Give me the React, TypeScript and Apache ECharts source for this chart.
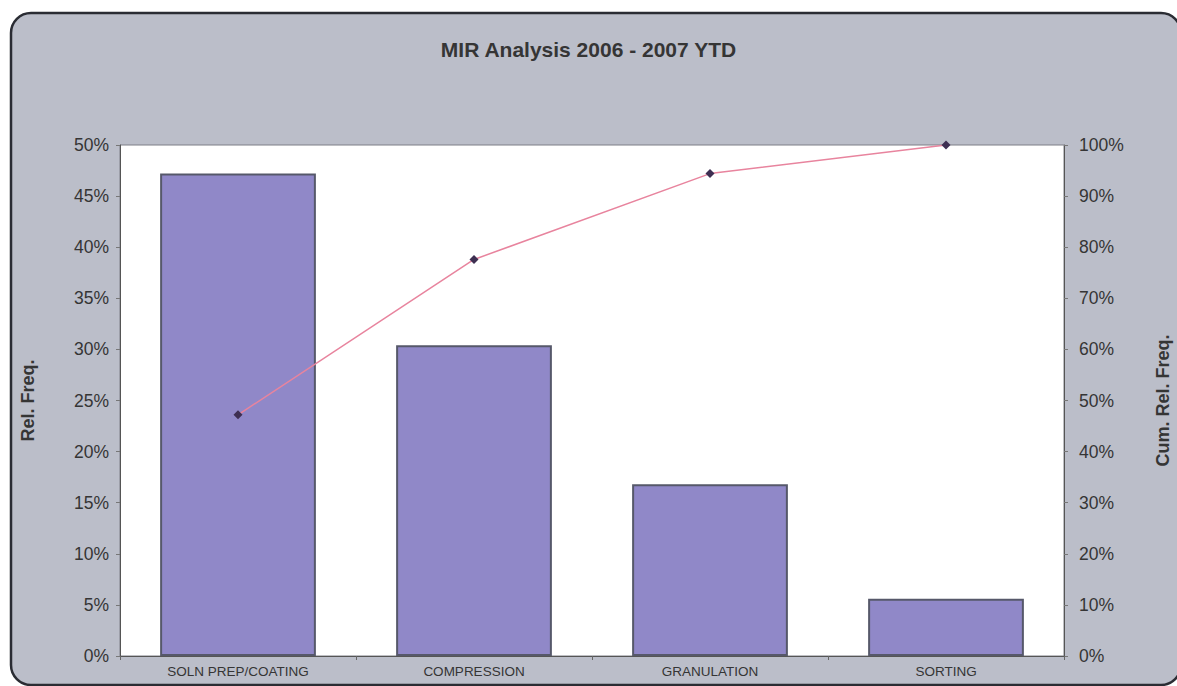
import React, { useEffect, useRef } from "react";
import * as echarts from "echarts";

// Pareto of MIR records by process area
const categories = ["SOLN PREP/COATING", "COMPRESSION", "GRANULATION", "SORTING"];
const relFreq = [47.2, 30.4, 16.8, 5.6];
const cumRelFreq = [47.2, 77.6, 94.4, 100];

const chartTitle = "MIR Analysis 2006 - 2007 YTD";
const leftAxisName = "Rel. Freq.";
const rightAxisName = "Cum. Rel. Freq.";

const FONT = "'Liberation Sans', Arial, sans-serif";
const TEXT = "#353535";

export default function App() {
  const ref = useRef<HTMLDivElement>(null);

  useEffect(() => {
    document.body.style.margin = "0";
    const chart = echarts.init(ref.current!, null, { renderer: "svg" });
    chart.setOption({
      animation: false,
      backgroundColor: "#ffffff",
      textStyle: { fontFamily: FONT },
      graphic: [
        {
          type: "rect",
          z: -10,
          silent: true,
          shape: { x: 11, y: 13, width: 1170, height: 672, r: 20 },
          style: { fill: "#bbbec9", stroke: "#2a2c33", lineWidth: 2.5 },
        },
      ],
      title: {
        text: chartTitle,
        left: "center",
        top: 34,
        textStyle: { fontFamily: FONT, fontSize: 21, fontWeight: "bold", color: TEXT },
      },
      grid: {
        left: 120,
        right: 113,
        top: 145,
        bottom: 30,
        outerBoundsMode: "none",
        show: true,
        backgroundColor: "#ffffff",
        borderColor: "#7c7e86",
        borderWidth: 1,
      },
      xAxis: {
        type: "category",
        data: categories,
        axisLine: { lineStyle: { color: "#555555", width: 1 } },
        axisTick: { show: true, length: 4, lineStyle: { color: "#666666" } },
        axisLabel: { fontFamily: FONT, fontSize: 13.5, color: TEXT, margin: 8 },
      },
      yAxis: [
        {
          type: "value",
          min: 0,
          max: 50,
          interval: 5,
          position: "left",
          name: leftAxisName,
          nameLocation: "middle",
          nameRotate: 90,
          nameGap: 83,
          nameTextStyle: { fontFamily: FONT, fontSize: 18, fontWeight: "bold", color: TEXT },
          axisLine: { show: true, lineStyle: { color: "#555555" } },
          axisTick: { show: true, length: 4, lineStyle: { color: "#777777" } },
          splitLine: { show: false },
          axisLabel: { formatter: "{value}%", fontFamily: FONT, fontSize: 17.5, color: TEXT, margin: 11 },
        },
        {
          type: "value",
          min: 0,
          max: 100,
          interval: 10,
          position: "right",
          name: rightAxisName,
          nameLocation: "middle",
          nameRotate: 90,
          nameGap: 90,
          nameTextStyle: { fontFamily: FONT, fontSize: 18, fontWeight: "bold", color: TEXT },
          axisLine: { show: true, lineStyle: { color: "#555555" } },
          axisTick: { show: true, length: 4, lineStyle: { color: "#777777" } },
          splitLine: { show: false },
          axisLabel: { formatter: "{value}%", fontFamily: FONT, fontSize: 17.5, color: TEXT, margin: 15 },
        },
      ],
      series: [
        {
          type: "bar",
          name: leftAxisName,
          yAxisIndex: 0,
          data: relFreq,
          barWidth: "66%",
          itemStyle: { color: "#9088c8", borderColor: "#56586a", borderWidth: 2 },
        },
        {
          type: "line",
          name: rightAxisName,
          yAxisIndex: 1,
          data: cumRelFreq,
          symbol: "diamond",
          symbolSize: 9,
          lineStyle: { color: "#e8849e", width: 1.5 },
          itemStyle: { color: "#3e2f52" },
        },
      ],
    });
    return () => chart.dispose();
  }, []);

  return <div ref={ref} style={{ width: 1177, height: 686 }} />;
}
